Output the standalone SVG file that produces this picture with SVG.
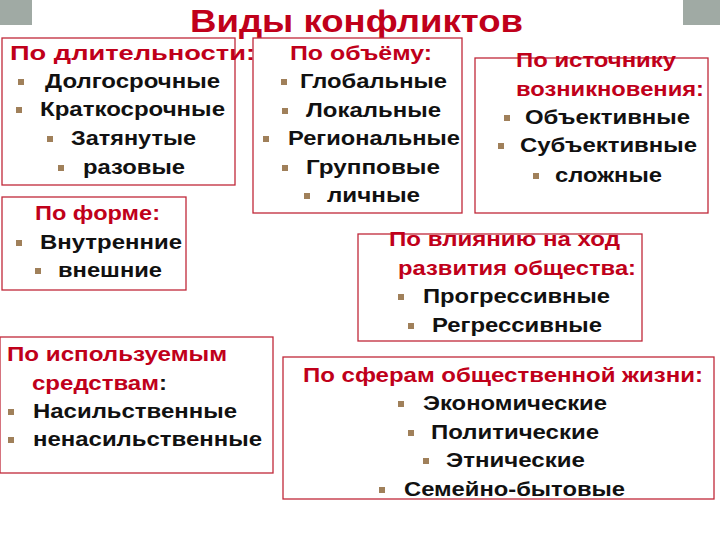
<svg xmlns="http://www.w3.org/2000/svg" width="720" height="540" viewBox="0 0 720 540">
<style>
.box{fill:#fff;stroke:#c0283a;stroke-width:1.3}
text{font-family:"Liberation Sans",Arial,sans-serif;font-weight:bold;font-size:21px}
.h{fill:#c0001a}
.i{fill:#111}
.b{fill:#a0805a}
</style>
<rect width="720" height="540" fill="#fff"/>
<rect x="0" y="0" width="32" height="25" fill="#a0aaa4"/>
<rect x="683" y="0" width="37" height="25" fill="#a0aaa4"/>
<text x="190" y="32" textLength="333" lengthAdjust="spacingAndGlyphs" style="font-size:32px" class="h">Виды  конфликтов</text>
<g id="duration">
<rect class="box" x="2" y="38" width="233" height="147"/>
<text class="h" x="10" y="60" textLength="245" lengthAdjust="spacingAndGlyphs">По длительности:</text>
<rect class="b" x="18" y="79" width="6" height="6"/><text class="i" x="45" y="88" textLength="175" lengthAdjust="spacingAndGlyphs">Долгосрочные</text>
<rect class="b" x="16" y="107" width="6" height="6"/><text class="i" x="40" y="116" textLength="185" lengthAdjust="spacingAndGlyphs">Краткосрочные</text>
<rect class="b" x="47" y="136" width="6" height="6"/><text class="i" x="71" y="145" textLength="125" lengthAdjust="spacingAndGlyphs">Затянутые</text>
<rect class="b" x="58" y="165" width="6" height="6"/><text class="i" x="83" y="174" textLength="102" lengthAdjust="spacingAndGlyphs">разовые</text>
</g>
<g id="volume">
<rect class="box" x="253" y="38" width="209" height="175"/>
<text class="h" x="290" y="60" textLength="142" lengthAdjust="spacingAndGlyphs">По  объёму:</text>
<rect class="b" x="281" y="79" width="6" height="6"/><text class="i" x="300" y="88" textLength="147" lengthAdjust="spacingAndGlyphs">Глобальные</text>
<rect class="b" x="282" y="108" width="6" height="6"/><text class="i" x="306" y="117" textLength="135" lengthAdjust="spacingAndGlyphs">Локальные</text>
<rect class="b" x="263" y="136" width="6" height="6"/><text class="i" x="288" y="145" textLength="172" lengthAdjust="spacingAndGlyphs">Региональные</text>
<rect class="b" x="282" y="165" width="6" height="6"/><text class="i" x="306" y="174" textLength="134" lengthAdjust="spacingAndGlyphs">Групповые</text>
<rect class="b" x="304" y="193" width="6" height="6"/><text class="i" x="327" y="202" textLength="93" lengthAdjust="spacingAndGlyphs">личные</text>
</g>
<g id="source">
<rect class="box" x="475" y="58" width="233" height="155"/>
<text class="h" x="516" y="67" textLength="160" lengthAdjust="spacingAndGlyphs">По источнику</text>
<text class="h" x="516" y="96" textLength="188" lengthAdjust="spacingAndGlyphs">возникновения:</text>
<rect class="b" x="504" y="115" width="6" height="6"/><text class="i" x="525" y="124" textLength="165" lengthAdjust="spacingAndGlyphs">Объективные</text>
<rect class="b" x="498" y="143" width="6" height="6"/><text class="i" x="520" y="152" textLength="177" lengthAdjust="spacingAndGlyphs">Субъективные</text>
<rect class="b" x="533" y="173" width="6" height="6"/><text class="i" x="555" y="182" textLength="107" lengthAdjust="spacingAndGlyphs">сложные</text>
</g>
<g id="form">
<rect class="box" x="2" y="197" width="184" height="93"/>
<text class="h" x="35" y="220" textLength="125" lengthAdjust="spacingAndGlyphs">По форме:</text>
<rect class="b" x="16" y="240" width="6" height="6"/><text class="i" x="40" y="249" textLength="142" lengthAdjust="spacingAndGlyphs">Внутренние</text>
<rect class="b" x="35" y="268" width="6" height="6"/><text class="i" x="58" y="277" textLength="104" lengthAdjust="spacingAndGlyphs">внешние</text>
</g>
<g id="influence">
<rect class="box" x="358" y="234" width="284" height="107"/>
<text class="h" x="389" y="246" textLength="231" lengthAdjust="spacingAndGlyphs">По влиянию на ход</text>
<text class="h" x="398" y="275" textLength="238" lengthAdjust="spacingAndGlyphs">развития общества:</text>
<rect class="b" x="398" y="294" width="6" height="6"/><text class="i" x="423" y="303" textLength="187" lengthAdjust="spacingAndGlyphs">Прогрессивные</text>
<rect class="b" x="408" y="323" width="6" height="6"/><text class="i" x="432" y="332" textLength="170" lengthAdjust="spacingAndGlyphs">Регрессивные</text>
</g>
<g id="means">
<rect class="box" x="0" y="337" width="273" height="136"/>
<text class="h" x="7" y="361" textLength="220" lengthAdjust="spacingAndGlyphs">По используемым</text>
<text x="32" y="390" textLength="135" lengthAdjust="spacingAndGlyphs"><tspan class="h">средствам</tspan><tspan class="i">:</tspan></text>
<rect class="b" x="8" y="409" width="6" height="6"/><text class="i" x="33" y="418" textLength="204" lengthAdjust="spacingAndGlyphs">Насильственные</text>
<rect class="b" x="8" y="437" width="6" height="6"/><text class="i" x="33" y="446" textLength="229" lengthAdjust="spacingAndGlyphs">ненасильственные</text>
</g>
<g id="spheres">
<rect class="box" x="283" y="357" width="431" height="142"/>
<text class="h" x="303" y="382" textLength="400" lengthAdjust="spacingAndGlyphs">По сферам общественной жизни:</text>
<rect class="b" x="398" y="401" width="6" height="6"/><text class="i" x="423" y="410" textLength="184" lengthAdjust="spacingAndGlyphs">Экономические</text>
<rect class="b" x="408" y="430" width="6" height="6"/><text class="i" x="431" y="439" textLength="168" lengthAdjust="spacingAndGlyphs">Политические</text>
<rect class="b" x="423" y="458" width="6" height="6"/><text class="i" x="446" y="467" textLength="139" lengthAdjust="spacingAndGlyphs">Этнические</text>
<rect class="b" x="379" y="487" width="6" height="6"/><text class="i" x="404" y="496" textLength="221" lengthAdjust="spacingAndGlyphs">Семейно-бытовые</text>
</g>
<g id="connectors"/>
</svg>
